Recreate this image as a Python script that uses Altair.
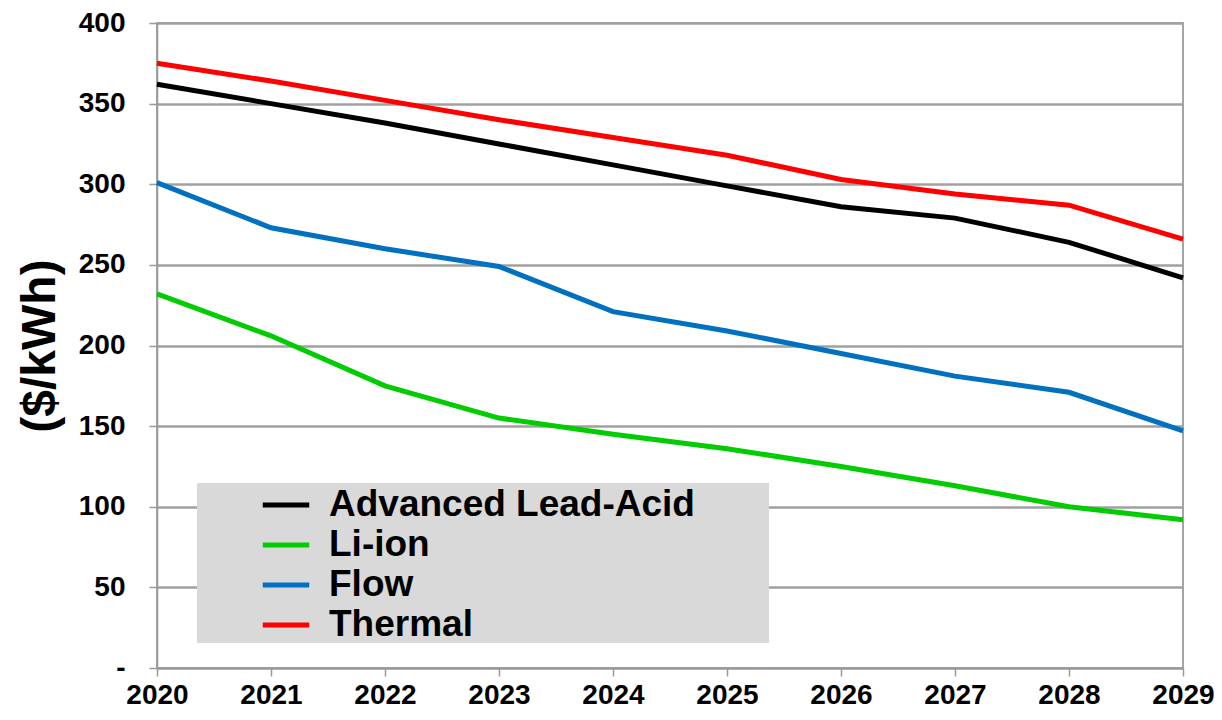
import altair as alt
import pandas as pd

years = [2020, 2021, 2022, 2023, 2024, 2025, 2026, 2027, 2028, 2029]
lead_acid = [362, 350, 338, 325, 312, 299, 286, 279, 264, 242]
li_ion = [232, 206, 175, 155, 145, 136, 125, 113, 100, 92]
flow = [301, 273, 260, 249, 221, 209, 195, 181, 171, 147]
thermal = [375, 364, 352, 340, 329, 318, 303, 294, 287, 266]

series_names = ["Advanced Lead-Acid", "Li-ion", "Flow", "Thermal"]
series_colors = ["#000000", "#00CC00", "#0070C0", "#FF0000"]
y_ticks = [0, 50, 100, 150, 200, 250, 300, 350, 400]

rows = []
for name, vals in zip(series_names, [lead_acid, li_ion, flow, thermal]):
    for y, v in zip(years, vals):
        rows.append({"Year": y, "Cost": v, "Technology": name})
df = pd.DataFrame(rows)

FONT = "Liberation Sans"
W, H = 1026, 645

chart = alt.Chart(df).mark_line(strokeWidth=5).encode(
    x=alt.X("Year:Q",
            scale=alt.Scale(domain=[2020, 2029], nice=False, zero=False),
            axis=alt.Axis(values=years, format="d", title=None, grid=False,
                          labelFontSize=28, labelFont=FONT, labelFontWeight="bold",
                          labelColor="#000000", labelPadding=5,
                          tickSize=8, tickColor="#999999", tickWidth=1.5,
                          domainColor="#999999", domainWidth=1.5,
                          labelFlush=False)),
    y=alt.Y("Cost:Q",
            scale=alt.Scale(domain=[0, 400], nice=False),
            axis=alt.Axis(values=y_ticks,
                          title="($/kWh)", titleFontSize=48, titleFont=FONT,
                          titleFontWeight="bold", titleColor="#000000",
                          titleX=-117, titleY=H / 2, titleAngle=270,
                          titleAlign="center", titleBaseline="middle",
                          labelExpr="datum.value == 0 ? '-' : datum.label",
                          labelFontSize=28, labelFont=FONT, labelFontWeight="bold",
                          labelColor="#000000", labelPadding=24,
                          tickSize=8, tickColor="#999999", tickWidth=1.5,
                          domainColor="#999999", domainWidth=1.5,
                          grid=True, gridColor="#A0A0A0", gridWidth=2.5)),
    color=alt.Color("Technology:N",
                    scale=alt.Scale(domain=series_names, range=series_colors),
                    sort=series_names,
                    legend=alt.Legend(
                        orient="none", legendX=40, legendY=460,
                        title=" ", titleOrient="right", titlePadding=74,
                        titleFontSize=30,
                        fillColor="#D9D9D9", padding=0,
                        symbolType="M-1.2,0H1.2", symbolSize=1500,
                        symbolStrokeWidth=5, symbolFillColor="transparent",
                        symbolOffset=67,
                        labelFontSize=37, labelFont=FONT, labelFontWeight="bold",
                        labelColor="#000000", labelOffset=21, labelLimit=600,
                        rowPadding=0)),
).properties(
    width=W, height=H,
    autosize=alt.AutoSizeParams(type="none"),
    padding={"left": 149, "top": 15, "right": 31, "bottom": 44}
).configure_view(
    stroke="#888888", strokeWidth=1.5
)

chart.save("out.html", embed_options={"renderer": "svg", "actions": False})
